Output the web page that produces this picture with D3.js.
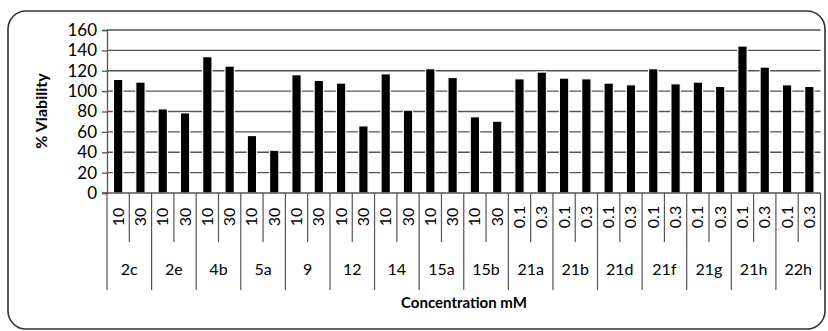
<!DOCTYPE html>
<html><head><meta charset="utf-8">
<script src="https://cdn.jsdelivr.net/npm/d3@7"></script>
<style>body{margin:0;background:#fff}svg{display:block}text{font-family:Lato,"Open Sans",sans-serif;fill:#000}</style>
</head><body><svg id="c" width="828" height="331"></svg>
<script>
const groups = ["2c","2e","4b","5a","9","12","14","15a","15b","21a","21b","21d","21f","21g","21h","22h"];
const concLabels = [["10","30"],["10","30"],["10","30"],["10","30"],["10","30"],["10","30"],["10","30"],["10","30"],["10","30"],
  ["0.1","0.3"],["0.1","0.3"],["0.1","0.3"],["0.1","0.3"],["0.1","0.3"],["0.1","0.3"],["0.1","0.3"]];
const viability = [111.5,108.9, 82.6,78.7, 133.8,124.6, 56.4,42.0, 116.1,110.5, 107.9,65.9, 117,81.3, 122,113.4,
  74.8,70.5, 112.1,118.7, 112.8,112.1, 107.9,106.2, 122,107.2, 108.9,104.6, 144.3,123.6, 106.2,104.6];
const yTicks = [0,20,40,60,80,100,120,140,160];

const svg = d3.select("#c");
const L=107, R=820.5, T=30, B=193;
const cats = [];
groups.forEach((g,i)=>concLabels[i].forEach((c,j)=>cats.push({g, c, key:g+"_"+j, v:viability[i*2+j]})));
const x = d3.scaleBand().domain(cats.map(d=>d.key)).range([L,R]).paddingInner(0.58).paddingOuter(0.29);
const xs = d3.scaleBand().domain(cats.map(d=>d.key)).range([L,R]);
const y = d3.scaleLinear().domain([0,160]).range([B,T]);

// frame
svg.append("rect").attr("x",8).attr("y",11).attr("width",817).attr("height",318).attr("rx",18)
  .attr("fill","none").attr("stroke","#333").attr("stroke-width",1.6);

// grid
svg.append("g").selectAll("line").data(yTicks.filter(t=>t>0)).join("line")
  .attr("x1",L).attr("x2",R).attr("y1",d=>y(d)).attr("y2",d=>y(d))
  .attr("stroke","#555").attr("stroke-width",1.3);

// bars
svg.append("g").selectAll("rect").data(cats).join("rect")
  .attr("x",d=>x(d.key)).attr("width",x.bandwidth())
  .attr("y",d=>y(d.v)).attr("height",d=>B-y(d.v))
  .attr("fill","#000").attr("stroke","#fff").attr("stroke-width",1.2);

// y axis
const ya = svg.append("g").attr("transform",`translate(${L},0)`)
  .call(d3.axisLeft(y).tickValues(yTicks).tickSize(5).tickPadding(5));
ya.select(".domain").attr("stroke","#555").attr("stroke-width",1.3);
ya.selectAll(".tick line").attr("stroke","#555").attr("stroke-width",1.3);
ya.selectAll("text").attr("font-size",17).attr("fill","#000").style("font-family","Lato,'Open Sans',sans-serif");

// x baseline
svg.append("line").attr("x1",L-5).attr("x2",R).attr("y1",B).attr("y2",B).attr("stroke","#555").attr("stroke-width",1.3);

// separators
const sep = svg.append("g").attr("stroke","#555").attr("stroke-width",1.2);
cats.forEach((d,i)=>{
  const xx = xs(d.key);
  const isGroup = i%2===0;
  sep.append("line").attr("x1",xx).attr("x2",xx).attr("y1",B).attr("y2",isGroup?290:242);
});
sep.append("line").attr("x1",R).attr("x2",R).attr("y1",B).attr("y2",290);

// sub labels
svg.append("g").selectAll("text").data(cats).join("text")
  .attr("transform",d=>`translate(${xs(d.key)+xs.bandwidth()/2+5.5},217) rotate(-90)`)
  .attr("text-anchor","middle").attr("font-size",16).text(d=>d.c);

// group labels
svg.append("g").selectAll("text").data(groups).join("text")
  .attr("x",(g,i)=>xs(cats[i*2].key)+xs.bandwidth())
  .attr("y",275).attr("text-anchor","middle").attr("font-size",16).text(d=>d);

// axis titles
svg.append("text").attr("transform","translate(47,111) rotate(-90)").attr("text-anchor","middle")
  .attr("font-size",16).attr("font-weight","bold").text("% Viability");
svg.append("text").attr("x",464).attr("y",308).attr("text-anchor","middle")
  .attr("font-size",15).attr("font-weight","bold").text("Concentration mM");
</script></body></html>
